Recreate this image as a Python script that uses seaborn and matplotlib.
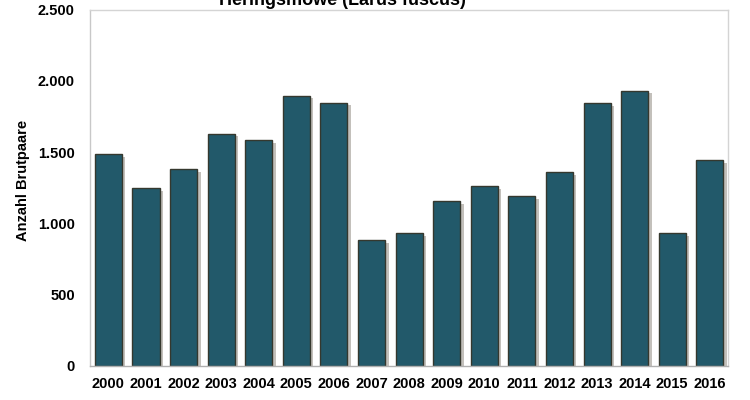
import matplotlib
matplotlib.use("Agg")
import matplotlib.pyplot as plt
import matplotlib.patheffects as pe
from matplotlib.ticker import FuncFormatter, FixedLocator
import seaborn as sns
import numpy as np

# Brutpaare Heringsmöwe, Werte
years = ["2000", "2001", "2002", "2003", "2004", "2005", "2006", "2007", "2008",
         "2009", "2010", "2011", "2012", "2013", "2014", "2015", "2016"]
pairs = [1485, 1246, 1380, 1630, 1583, 1897, 1848, 883, 934,
         1157, 1264, 1192, 1360, 1843, 1932, 932, 1443]
yticks = [0, 500, 1000, 1500, 2000, 2500]

sns.set_style("white")
plt.rcParams["font.family"] = ["Liberation Sans Narrow", "Liberation Sans", "DejaVu Sans"]
plt.rcParams["font.weight"] = "bold"
plt.rcParams["text.color"] = "black"

fig = plt.figure(figsize=(7.5, 4), dpi=100)
ax = fig.add_axes([0.12, 0.0858, 0.851, 0.8897])

sns.barplot(x=years, y=pairs, color="#22596a", saturation=1, width=0.72,
            edgecolor="#35382e", linewidth=1.0, ax=ax)

for p in ax.patches:
    p.set_path_effects([pe.SimplePatchShadow(offset=(2.5, -2), shadow_rgbFace="#7a7468", alpha=0.45),
                        pe.Normal()])

ax.set_ylim(0, 2500)
ax.set_xlim(-0.49, len(years) - 0.51)
ax.yaxis.set_major_locator(FixedLocator(yticks))
ax.yaxis.set_major_formatter(FuncFormatter(lambda v, _: f"{int(v):,}".replace(",", ".")))

# Striche zwischen den Balken
ax.xaxis.set_minor_locator(FixedLocator(np.arange(-0.5, len(years), 1.0)))
ax.tick_params(axis="x", which="major", length=0, pad=8, labelsize=10.5, labelcolor="black")
ax.tick_params(axis="x", which="minor", length=4, width=0.8, color="#a0a0a0", direction="out")
ax.tick_params(axis="y", which="major", length=4, width=0.8, color="#a0a0a0", direction="out",
               pad=7, labelsize=10.5, labelcolor="black")
for lab in ax.get_xticklabels() + ax.get_yticklabels():
    lab.set_fontweight("bold")

for side in ["top", "right", "left", "bottom"]:
    ax.spines[side].set_visible(True)
    ax.spines[side].set_color("#d4d4d4")
    ax.spines[side].set_linewidth(1.0)
ax.spines["bottom"].set_color("#b0b0b0")
ax.spines["left"].set_color("#c8c8c8")

ax.set_xlabel("")
ax.set_ylabel("Anzahl Brutpaare", fontsize=10.5, fontweight="bold", color="black")
ax.yaxis.set_label_coords(-0.094, 0.52)

fig.text(0.456, 0.988, "Heringsmöwe (Larus fuscus)", ha="center", va="baseline",
         fontsize=13, fontweight="bold", color="black")

fig.savefig("out.png", dpi=100)
